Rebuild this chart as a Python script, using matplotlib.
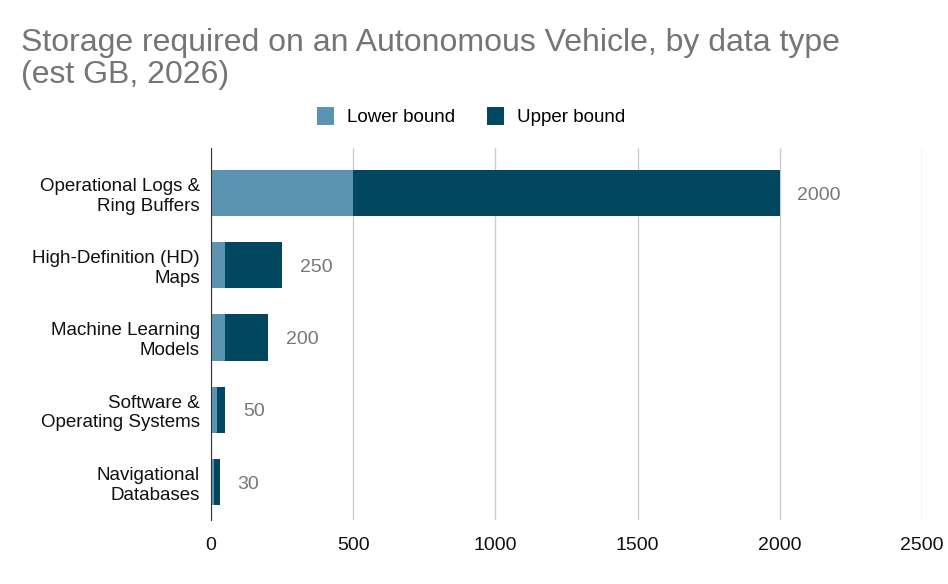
import matplotlib
matplotlib.use("Agg")
import matplotlib.pyplot as plt
from matplotlib.patches import Patch

plt.rcParams['font.family'] = ['Liberation Sans', 'DejaVu Sans']

categories = ["Operational Logs &\nRing Buffers", "High-Definition (HD)\nMaps",
              "Machine Learning\nModels", "Software &\nOperating Systems",
              "Navigational\nDatabases"]
lower = [500, 50, 50, 20, 10]
upper = [2000, 250, 200, 50, 30]

c_low = "#5b94b1"
c_up = "#00475f"

fig = plt.figure(figsize=(9.48, 5.84), dpi=100)
ax = fig.add_axes([0.2226, 0.1096, 0.75, 0.637])

y = list(range(len(categories)))
extra = [u - l for u, l in zip(upper, lower)]
ax.barh(y, lower, height=0.64, color=c_low, zorder=3)
ax.barh(y, extra, left=lower, height=0.64, color=c_up, zorder=3)

for yi, u in zip(y, upper):
    ax.text(u + 62, yi + 0.03, str(u), va='center', ha='left', fontsize=14, color='#777777')

ax.set_ylim(4.526, -0.623)
ax.set_xlim(0, 2500)
ax.set_xticks([0, 500, 1000, 1500, 2000, 2500])
ax.set_yticks(y)
ax.set_yticklabels(categories, fontsize=13.5, color='#111111')
ax.tick_params(axis='x', labelsize=14, colors='#111111', length=0, pad=12)
ax.tick_params(axis='y', length=0, pad=8)
for lab in ax.get_yticklabels():
    lab.set_horizontalalignment('right')
    lab.set_multialignment('right')
ax.grid(axis='x', color='#cccccc', linewidth=1, zorder=0)
for s in ['top', 'right', 'bottom']:
    ax.spines[s].set_visible(False)
ax.spines['left'].set_color('#333333')
ax.spines['left'].set_zorder(4)

fig.text(0.022, 0.952, "Storage required on an Autonomous Vehicle, by data type\n(est GB, 2026)",
         fontsize=23, color='#757575', va='top', ha='left', linespacing=1.1)

handles = [Patch(facecolor=c_low, label='Lower bound'), Patch(facecolor=c_up, label='Upper bound')]
fig.legend(handles=handles, loc='center', bbox_to_anchor=(0.497, 0.80), ncol=2, frameon=False,
           fontsize=13.5, handlelength=0.9, handleheight=1.1, columnspacing=1.7, handletextpad=0.7)

fig.savefig("out.png", dpi=100)
